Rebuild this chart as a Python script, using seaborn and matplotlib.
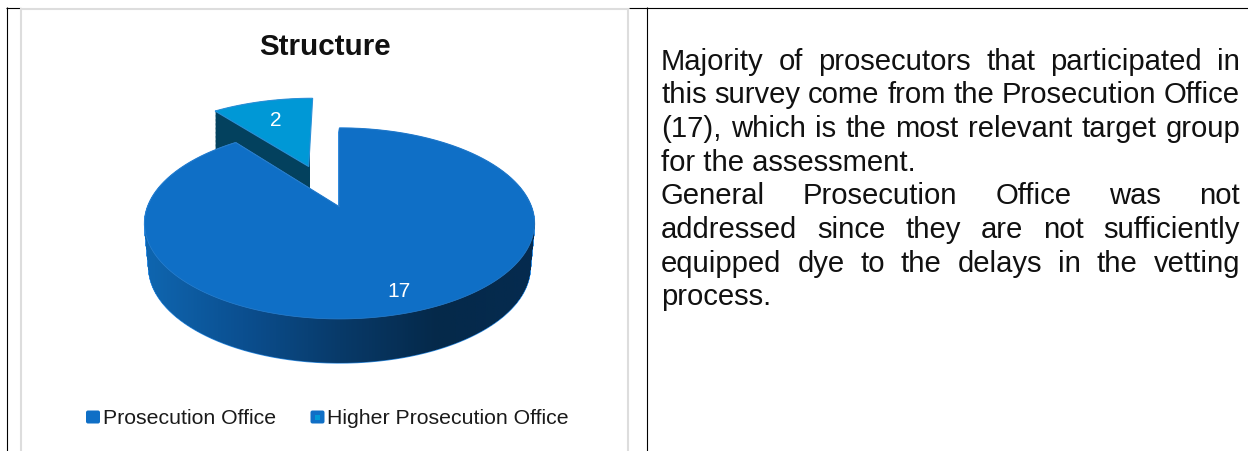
import numpy as np
import matplotlib
matplotlib.use("Agg")
import matplotlib.pyplot as plt
from matplotlib.patches import FancyBboxPatch, PathPatch, Rectangle
from matplotlib.path import Path
from matplotlib.transforms import Transform
import seaborn as sns

# Chart content
categories = ["Prosecution Office", "Higher Prosecution Office"]
counts = [17, 2]
chart_title = "Structure"
paragraph_lines = [
    ("Majority of prosecutors that participated in", True),
    ("this survey come from the Prosecution Office", True),
    ("(17), which is the most relevant target group", True),
    ("for the assessment.", False),
    ("General Prosecution Office was not", True),
    ("addressed since they are not sufficiently", True),
    ("equipped dye to the delays in the vetting", True),
    ("process.", False),
]

W, H = 1248, 451
sns.set_theme(style="white")
plt.rcParams["font.family"] = ["Liberation Sans", "DejaVu Sans"]

slice_colors = sns.color_palette(["#0F6FC6", "#0098D6"])
wall_cmap = sns.blend_palette(
    ["#0F66B0", "#0B4F90", "#083A69", "#05294A", "#052B4F"], as_cmap=True
)
small_slice_wall = "#03415E"

fig = plt.figure(figsize=(W / 100, H / 100), dpi=100, facecolor="white")
ax = fig.add_axes([0, 0, 1, 1])


def densify(path, samples=40):
    """Replace a wedge's curves with a fine polyline."""
    points = []
    for segment, code in path.iter_bezier():
        if code == Path.MOVETO:
            points.append(segment.control_points[:1])
        else:
            points.append(segment(np.linspace(0, 1, samples))[1:])
    return np.vstack(points)


class TiltedDisc(Transform):
    """Projects the unit pie onto a receding plane, in pixel coordinates."""

    input_dims = output_dims = 2
    has_inverse = False
    is_separable = False

    def __init__(self, cx=338.0, lift=0.0, shrink=0.0):
        super().__init__()
        self.cx = cx
        self.lift = lift
        self.shrink = shrink

    def transform_non_affine(self, xy):
        xy = np.asarray(xy, dtype=float)
        w = 1 + 0.1728 * xy[:, 1]
        px = 192 * (1 - self.shrink) * xy[:, 0] / w
        py = -92.6 * xy[:, 1] / w
        return np.column_stack([self.cx + px, 207 + py + self.lift])

    def transform_path_non_affine(self, path):
        return Path(self.transform_non_affine(densify(path)), closed=False)


explode = [0, 0.5]
main_cx, small_cx = 339.5, 337.5
wedges, _, autotexts = ax.pie(
    counts,
    explode=explode,
    startangle=90,
    counterclock=False,
    colors=slice_colors,
    autopct=lambda p: f"{round(p * sum(counts) / 100):d}",
    pctdistance=0.83,
    textprops=dict(color="white", fontsize=15),
    wedgeprops=dict(linewidth=0),
)
ax.set_aspect("auto")
ax.set_xlim(0, W)
ax.set_ylim(H, 0)
ax.axis("off")

for wedge, cx, z, edge, lw in zip(wedges, (main_cx, small_cx), (6, 5), ("#2A80D0", "#2A90D8"), (0.5, 0.8)):
    wedge.set_transform(TiltedDisc(cx=cx) + ax.transData)
    wedge.set_clip_on(False)
    wedge.set_zorder(z)
    wedge.set_edgecolor(edge)
    wedge.set_linewidth(lw)

for label, cx in zip(autotexts, (main_cx, small_cx)):
    label.set_transform(TiltedDisc(cx=cx) + ax.transData)
    label.set_zorder(8)
# The small slice's value sits nearer its point than the default radius
theta = np.deg2rad(90 + 360 * counts[1] / sum(counts) / 2)
radial = explode[1] + 0.68
autotexts[1].set_position((radial * np.cos(theta), radial * np.sin(theta)))


def extruded_path(wedge, cx, depth, shrink, steps=48):
    """Union of copies of a wedge pushed down by up to depth pixels."""
    outline = densify(wedge.get_path())
    pieces = []
    for t in np.linspace(0, 1, steps):
        tf = TiltedDisc(cx=cx, lift=depth * t, shrink=shrink * t)
        pieces.append(Path(tf.transform_non_affine(outline), closed=False))
    return Path.make_compound_path(*pieces)


# Side walls: the small slice first, so the large one overlaps it
small_wall = PathPatch(
    extruded_path(wedges[1], small_cx, 38, 0.0),
    facecolor=small_slice_wall, edgecolor="none", zorder=2,
)
ax.add_patch(small_wall)
small_wall.set_clip_path(Rectangle((0, 0), 309.5, H, transform=ax.transData))

main_wall = extruded_path(wedges[0], main_cx, 44, 0.022)
ax.add_patch(PathPatch(main_wall, facecolor="none", edgecolor="#2F8BE0", linewidth=1.0, zorder=3))
wall_image = ax.imshow(
    np.linspace(0, 1, 400)[None, :],
    cmap=wall_cmap,
    extent=(145, 535, 370, 120),
    aspect="auto",
    zorder=4,
)
clip = PathPatch(main_wall, transform=ax.transData, facecolor="none", edgecolor="none")
ax.add_patch(clip)
wall_image.set_clip_path(clip)
ax.set_xlim(0, W)
ax.set_ylim(H, 0)

ax.text(325, 47, chart_title, ha="center", va="center", fontsize=21.3, fontweight="bold", color="#111111")

# Legend entries
legend_x = [(85.5, 103), (310, 327)]
for (mx, tx), name, col in zip(legend_x, categories, slice_colors):
    ax.add_patch(FancyBboxPatch((mx + 1, 411), 13, 12, boxstyle="round,pad=0.5,rounding_size=2",
                                facecolor=slice_colors[0], edgecolor="none", zorder=6))
    if col != slice_colors[0]:
        ax.add_patch(FancyBboxPatch((mx + 5, 414.5), 5, 5, boxstyle="square,pad=0",
                                    facecolor=col, edgecolor="none", zorder=7))
    ax.text(tx, 418.5, name, ha="left", va="center", fontsize=15.35, color="#1a1a1a")

# Table rules and chart frame
black = "#000000"
grey = "#DDDDDD"
rule = dict(color=black, lw=0.8, solid_capstyle="butt")
frame = dict(color=grey, lw=1.5, solid_capstyle="butt")
ax.plot([6.5, 6.5], [7, H], **rule)
ax.plot([6, 21], [7.5, 7.5], **rule)
ax.plot([629, W], [7.5, 7.5], **rule)
ax.plot([646.5, 646.5], [7, H], **rule)
ax.plot([21, 629], [8.5, 8.5], **frame)
ax.plot([21.2, 21.2], [8, H], **frame)
ax.plot([628.3, 628.3], [8, H], **frame)

# Justified paragraph
fig.canvas.draw()
renderer = fig.canvas.get_renderer()
left, right = 661, 1240
y0, line_step = 61.5, 33.7
body = dict(fontsize=21.1, color="#111111", ha="left", va="center")
for i, (line, justify) in enumerate(paragraph_lines):
    y = y0 + i * line_step
    if not justify:
        ax.text(left, y, line, **body)
        continue
    words = line.split()
    items = [ax.text(left, y, w, **body) for w in words]
    widths = [t.get_window_extent(renderer).width for t in items]
    gap = (right - left - sum(widths)) / (len(words) - 1)
    x = left
    for item, width in zip(items, widths):
        item.set_x(x)
        x += width + gap

fig.savefig("out.png", dpi=100, facecolor="white")
